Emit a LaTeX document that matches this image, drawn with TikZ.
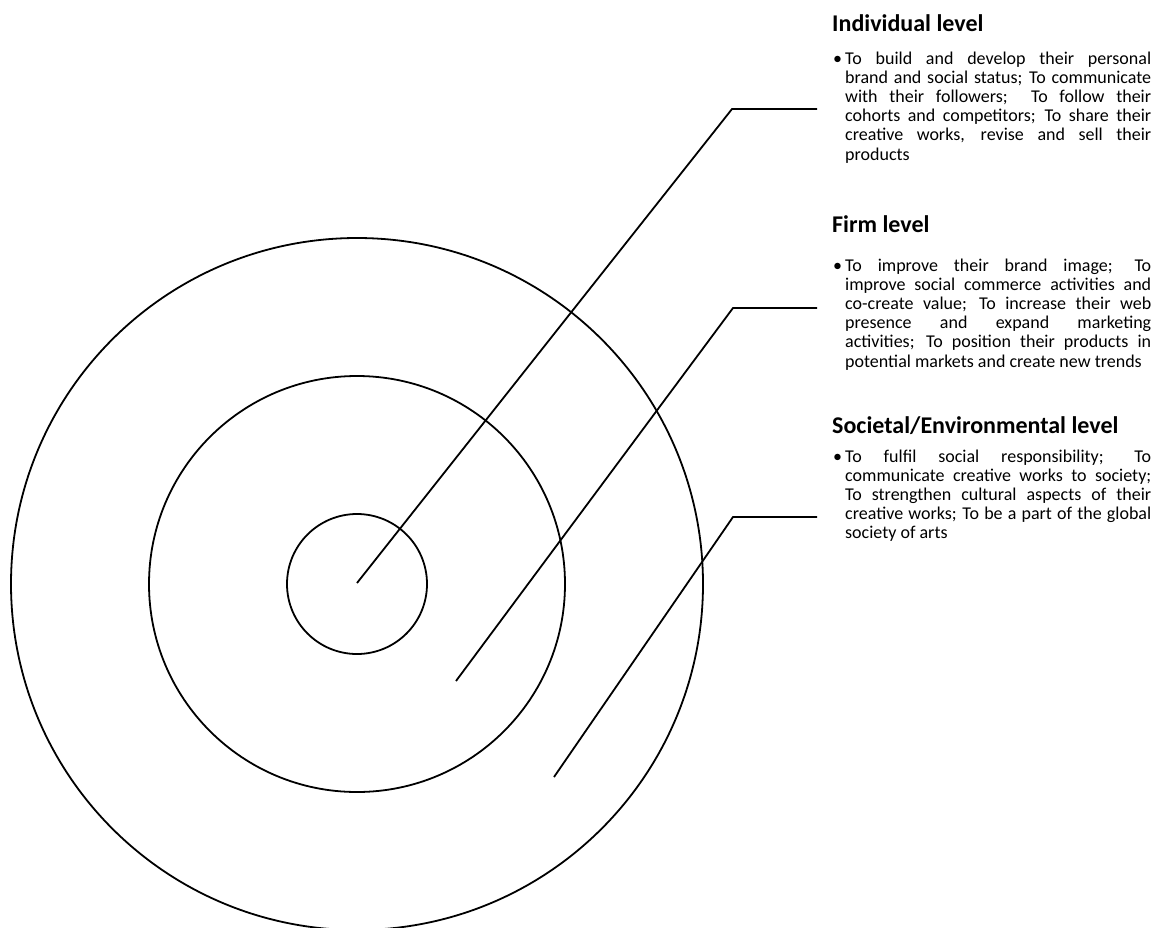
\documentclass[tikz,border=0pt]{standalone}
\usepackage{fontspec}
\setmainfont{Carlito}
\begin{document}
\begin{tikzpicture}[x=1pt,y=-1pt,
  ring/.style={circle, draw, line width=1.8pt, inner sep=0pt, minimum size=#1},
  leader/.style={line width=1.8pt},
  head/.style={anchor=base west, inner sep=0pt, font=\fontsize{24}{28}\selectfont\bfseries},
  body/.style={anchor=base west, inner sep=0pt, text width=318pt, align=justify, font=\fontsize{18}{19.2}\selectfont},
]
\useasboundingbox (0,0) rectangle (1165,927);
\newcommand{\bulletpar}[1]{\hyphenpenalty=10000\tolerance=10000\hangindent=12pt\hangafter=1\noindent\makebox[12pt][l]{\textbullet}#1\par}

\coordinate (c) at (357,584);
\node[ring=692pt] (outer) at (c) {};
\node[ring=416pt] (middle) at (c) {};
\node[ring=140pt] (inner) at (c) {};

\coordinate (p1) at (357,583);
\coordinate (k1) at (732,109);
\coordinate (e1) at (817,109);
\coordinate (p2) at (456,681);
\coordinate (k2) at (733,308);
\coordinate (e2) at (817,308);
\coordinate (p3) at (554,777);
\coordinate (k3) at (733,517);
\coordinate (e3) at (817,517);

\draw[leader] (p1) -- (k1) -- (e1);
\draw[leader] (p2) -- (k2) -- (e2);
\draw[leader] (p3) -- (k3) -- (e3);

\node[head] (h1) at (832,31) {Individual level};
\node[body] (b1) at (833,64) {\bulletpar{To build and develop their personal\linebreak
brand and social status; To communicate\linebreak
with their followers;\ \ To follow their\linebreak
cohorts and competitors; To share their\linebreak
creative works, revise and sell their\linebreak
products}};

\node[head] (h2) at (832,232) {Firm level};
\node[body] (b2) at (833,271) {\bulletpar{To improve their brand image; To\linebreak
improve social commerce activities and\linebreak
co-create value; To increase their web\linebreak
presence and expand marketing\linebreak
activities; To position their products in\linebreak
potential markets and create new trends}};

\node[head] (h3) at (832,433) {Societal/Environmental level};
\node[body] (b3) at (833,462) {\bulletpar{To fulfil social responsibility; To\linebreak
communicate creative works to society;\linebreak
To strengthen cultural aspects of their\linebreak
creative works; To be a part of the global\linebreak
society of arts}};
\end{tikzpicture}
\end{document}
